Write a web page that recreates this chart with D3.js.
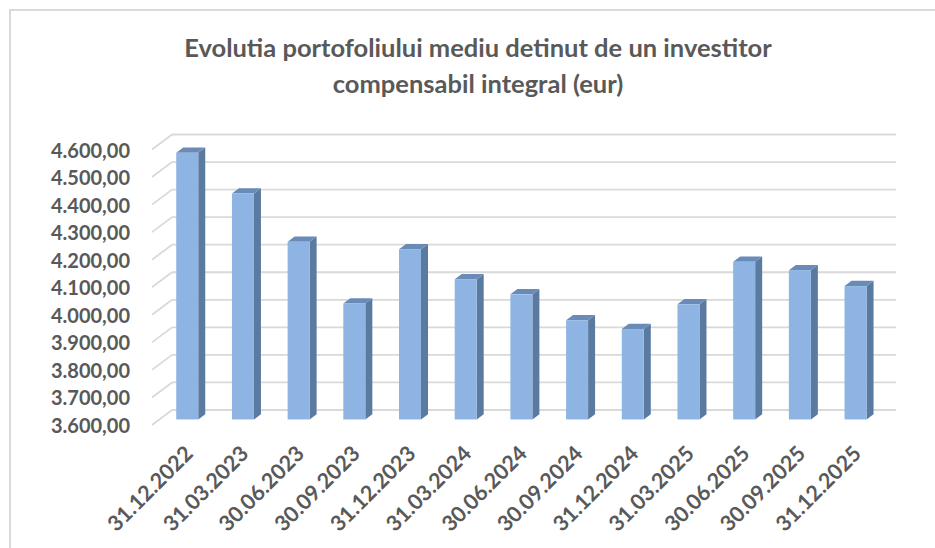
<!DOCTYPE html>
<html>
<head>
<meta charset="utf-8">
<script src="https://cdn.jsdelivr.net/npm/d3@7"></script>
<style>
  html, body { margin: 0; padding: 0; background: #fff; }
  svg { display: block; font-family: Lato, "Open Sans", sans-serif; }
</style>
</head>
<body>
<div id="chart"></div>
<script>
// data
const dates = ["31.12.2022", "31.03.2023", "30.06.2023", "30.09.2023", "31.12.2023", "31.03.2024",
    "30.06.2024", "30.09.2024", "31.12.2024", "31.03.2025", "30.06.2025", "30.09.2025", "31.12.2025"];
const portfolio = [4568, 4420, 4245, 4021, 4218, 4109, 4054, 3960, 3928, 4018, 4172, 4142, 4084];
const yTicks = [3600, 3700, 3800, 3900, 4000, 4100, 4200, 4300, 4400, 4500, 4600];
const titleLines = ["Evolutia portofoliului mediu detinut de un investitor", "compensabil integral (eur)"];

const width = 935;
const height = 548;

// back wall of the 3d plot and the depth vector (back -> front)
const wall = { left: 172, right: 896, top: 134.5, bottom: 410 };
const depth = { dx: -20, dy: 15 };
const barFront = 0.63, barBack = 0.28;

const svg = d3.select("#chart").append("svg")
    .attr("width", width)
    .attr("height", height);

// chart area border
svg.append("rect")
    .attr("x", 10).attr("y", 10)
    .attr("width", 1000).attr("height", 1000)
    .attr("fill", "none")
    .attr("stroke", "#d9d9d9")
    .attr("stroke-width", 2);

// title
svg.append("text")
    .attr("x", 478)
    .attr("y", 57)
    .attr("text-anchor", "middle")
    .style("font-size", "25.5px")
    .style("font-weight", "bold")
    .style("fill", "#595959")
    .selectAll("tspan")
    .data(titleLines)
    .enter()
    .append("tspan")
    .attr("x", 478)
    .attr("dy", (d, i) => i === 0 ? 0 : 36)
    .text(d => d);

const x = d3.scaleBand()
    .domain(dates)
    .range([wall.left, wall.right]);

const y = d3.scaleLinear()
    .domain([3600, 4600])
    .range([wall.bottom, wall.top]);

const fmt = d3.formatLocale({ decimal: ",", thousands: ".", grouping: [3], currency: ["", ""] }).format(",.2f");

// gridlines on the back wall + diagonals on the side wall
const grid = svg.append("g").attr("class", "grid")
    .attr("stroke", "#d9d9d9")
    .attr("stroke-width", 1.8)
    .attr("fill", "none");

grid.selectAll("line.back")
    .data(yTicks)
    .enter()
    .append("line")
    .attr("class", "back")
    .attr("x1", wall.left).attr("x2", wall.right)
    .attr("y1", d => y(d)).attr("y2", d => y(d));

grid.selectAll("line.side")
    .data(yTicks)
    .enter()
    .append("line")
    .attr("class", "side")
    .attr("x1", wall.left + depth.dx).attr("y1", d => y(d) + depth.dy)
    .attr("x2", wall.left).attr("y2", d => y(d));

// y tick labels on the front edge
svg.append("g")
    .selectAll("text")
    .data(yTicks)
    .enter()
    .append("text")
    .attr("x", 130)
    .attr("y", d => y(d) + depth.dy + 1)
    .attr("dy", "0.35em")
    .attr("text-anchor", "end")
    .style("font-size", "20px")
    .style("font-weight", "bold")
    .style("fill", "#595959")
    .text(d => fmt(d));

// 3d columns
const barW = 22;
const pt = (cx, v, d) => [cx + d * depth.dx, y(v) + d * depth.dy];

const bars = svg.append("g")
    .selectAll("g")
    .data(dates.map((d, i) => ({ date: d, value: portfolio[i] })))
    .enter()
    .append("g");

bars.each(function(d) {
    const g = d3.select(this);
    const cx = x(d.date) + x.bandwidth() / 2;
    const l = cx - barW / 2, r = cx + barW / 2;
    const flt = pt(l, d.value, barFront), frt = pt(r, d.value, barFront);
    const frb = pt(r, 3600, barFront), flb = pt(l, 3600, barFront);
    const blt = pt(l, d.value, barBack), brt = pt(r, d.value, barBack);
    const brb = pt(r, 3600, barBack);

    // side face
    g.append("polygon")
        .attr("points", [frt, brt, brb, frb].map(p => p.join(",")).join(" "))
        .attr("fill", "#5b7aa0");
    // top face
    g.append("polygon")
        .attr("points", [flt, frt, brt, blt].map(p => p.join(",")).join(" "))
        .attr("fill", "#6a8bb7");
    // front face
    g.append("rect")
        .attr("x", flt[0])
        .attr("y", flt[1])
        .attr("width", barW)
        .attr("height", flb[1] - flt[1])
        .attr("fill", "#8db4e2");
});

// rotated category labels
svg.append("g")
    .selectAll("text")
    .data(dates)
    .enter()
    .append("text")
    .attr("transform", d => {
        const cx = x(d) + x.bandwidth() / 2 + barFront * depth.dx;
        return `translate(${cx + 7},${455}) rotate(-45)`;
    })
    .attr("text-anchor", "end")
    .style("font-size", "21.5px")
    .style("font-weight", "bold")
    .style("fill", "#595959")
    .text(d => d);
</script>
</body>
</html>
